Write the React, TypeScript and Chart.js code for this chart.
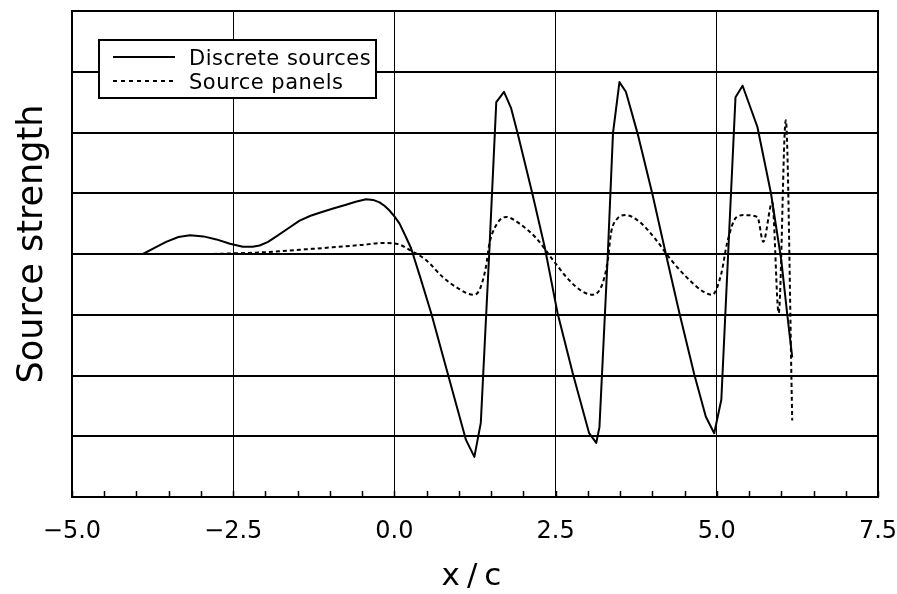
import React, { useEffect, useRef } from 'react';
import { Chart, registerables } from 'chart.js';

Chart.register(...registerables);

// ---- Data ----
const seriesNames = ['Discrete sources', 'Source panels'];

const discreteX = [
  -3.9, -3.72, -3.54, -3.35, -3.17, -2.96, -2.76, -2.55, -2.35, -2.2, -2.09, -1.96, -1.83, -1.65, -1.47,
  -1.3, -1.16, -0.95, -0.75, -0.6, -0.44, -0.33, -0.23, -0.15, -0.08, 0.0, 0.08, 0.17, 0.26, 0.4,
  0.57, 0.83, 1.11, 1.24, 1.34, 1.47, 1.58, 1.7, 1.81, 1.91, 2.14, 2.33, 2.53, 2.77, 3.02, 3.13, 3.18,
  3.31, 3.39, 3.49, 3.59, 3.77, 4.0, 4.21, 4.42, 4.65, 4.83, 4.96, 5.07, 5.29, 5.4, 5.63, 5.84, 6.0,
  6.09, 6.17,
];
const discreteY = [
  0, 0.1, 0.2, 0.28, 0.31, 0.29, 0.24, 0.17, 0.12, 0.12, 0.14, 0.2, 0.29, 0.42, 0.55,
  0.63, 0.68, 0.75, 0.81, 0.86, 0.9, 0.89, 0.85, 0.79, 0.72, 0.62, 0.5, 0.3, 0.09, -0.38,
  -0.97, -1.98, -3.06, -3.34, -2.78, 0, 2.5, 2.67, 2.4, 1.99, 0.99, 0.12, -0.97, -1.98, -2.95, -3.11, -2.85,
  0, 1.99, 2.83, 2.67, 1.99, 0.99, 0, -0.97, -1.98, -2.68, -2.95, -2.4, 2.58, 2.77, 2.09, 1.0, -0.1,
  -0.97, -1.7,
];

const panelX = [
  -3.9, -3.0, -2.5, -2.0, -1.47, -0.96, -0.5, -0.19, 0.03, 0.23, 0.49, 0.75, 0.98, 1.22, 1.32, 1.42,
  1.47, 1.55, 1.73, 1.94, 2.2, 2.46, 2.71, 2.92, 3.08, 3.23, 3.31, 3.36, 3.44, 3.59, 3.8, 4.06, 4.27,
  4.53, 4.79, 4.93, 5.07, 5.16, 5.3, 5.43, 5.63, 5.72, 5.86, 5.96, 6.07, 6.17,
];
const panelY = [
  0, 0, 0.01, 0.03, 0.07, 0.11, 0.15, 0.18, 0.17, 0.07, -0.1, -0.38, -0.56, -0.67, -0.59, -0.21,
  0.15, 0.42, 0.61, 0.5, 0.26, -0.1, -0.43, -0.62, -0.67, -0.48, -0.1, 0.35, 0.56, 0.64, 0.53, 0.23, -0.07,
  -0.38, -0.62, -0.67, -0.32, 0.18, 0.6, 0.64, 0.61, 0.2, 0.85, -0.97, 2.2, -2.74,
];

const xTickValues = [-5, -2.5, 0, 2.5, 5, 7.5];
const xTickLabels = ['\u22125.0', '\u22122.5', '0.0', '2.5', '5.0', '7.5'];
const xMinorStep = 0.5;
const xTitle = 'x/c';
const yTitle = 'Source strength';

const FONT = '"DejaVu Sans", "Liberation Sans", sans-serif';

const decorPlugin = {
  id: 'decor',
  afterDatasetsDraw(chart: any) {
    const { ctx, chartArea } = chart;
    const xs = chart.scales.x;
    const { left, right, top, bottom } = chartArea;
    ctx.save();
    // minor ticks on bottom axis, pointing inward
    ctx.strokeStyle = '#000';
    ctx.lineWidth = 1.5;
    const xmin = xTickValues[0];
    const xmax = xTickValues[xTickValues.length - 1];
    for (let v = xmin; v <= xmax + 1e-9; v += xMinorStep) {
      const p = Math.round(xs.getPixelForValue(v)) + 0.5;
      ctx.beginPath();
      ctx.moveTo(p, bottom);
      ctx.lineTo(p, bottom - 6);
      ctx.stroke();
    }
    // frame
    ctx.lineWidth = 2;
    ctx.strokeRect(left, top, right - left, bottom - top);

    // legend
    const bx = 99, by = 40, bw = 277, bh = 58;
    ctx.fillStyle = '#fff';
    ctx.fillRect(bx, by, bw, bh);
    ctx.lineWidth = 2;
    ctx.strokeRect(bx, by, bw, bh);
    ctx.beginPath();
    ctx.moveTo(113, 57);
    ctx.lineTo(175, 57);
    ctx.stroke();
    ctx.setLineDash([4, 4]);
    ctx.beginPath();
    ctx.moveTo(113, 81);
    ctx.lineTo(173, 81);
    ctx.stroke();
    ctx.setLineDash([]);
    ctx.fillStyle = '#000';
    ctx.font = `21px ${FONT}`;
    ctx.textBaseline = 'alphabetic';
    ctx.textAlign = 'left';
    (ctx as any).letterSpacing = '0.5px';
    ctx.fillText(seriesNames[0], 189, 65);
    ctx.fillText(seriesNames[1], 189, 89);

    // x title
    ctx.font = `31px ${FONT}`;
    (ctx as any).letterSpacing = '7px';
    ctx.textAlign = 'center';
    ctx.fillText(xTitle, 475, 585);

    // y title
    ctx.translate(42, 244);
    ctx.rotate(-Math.PI / 2);
    ctx.font = `35px ${FONT}`;
    (ctx as any).letterSpacing = '0px';
    ctx.textAlign = 'center';
    ctx.fillText(yTitle, 0, 0);
    ctx.restore();
  },
};

export default function App() {
  const ref = useRef<HTMLCanvasElement | null>(null);
  useEffect(() => {
    if (!ref.current) return;
    const chart = new Chart(ref.current, {
      type: 'line',
      data: {
        datasets: [
          {
            label: seriesNames[0],
            data: discreteX.map((x, i) => ({ x, y: discreteY[i] })),
            borderColor: '#000',
            borderWidth: 2,
            pointRadius: 0,
            tension: 0,
            borderJoinStyle: 'round',
            fill: false,
          },
          {
            label: seriesNames[1],
            data: panelX.map((x, i) => ({ x, y: panelY[i] })),
            borderColor: '#000',
            borderWidth: 2,
            borderDash: [4, 3],
            pointRadius: 0,
            cubicInterpolationMode: 'monotone',
            fill: false,
          },
        ],
      },
      options: {
        responsive: false,
        animation: false,
        events: [],
        layout: { padding: { top: 11, right: 19, left: 0, bottom: 0 } },
        plugins: { legend: { display: false }, tooltip: { enabled: false } },
        scales: {
          x: {
            type: 'linear',
            min: -5,
            max: 7.5,
            afterFit: (s: any) => { s.height = 97; s.paddingLeft = 0; s.paddingRight = 0; },
            afterBuildTicks: (s: any) => { s.ticks = xTickValues.map((v) => ({ value: v })); },
            border: { display: false },
            grid: { color: '#000', lineWidth: 1, drawTicks: false },
            ticks: {
              autoSkip: false,
              maxRotation: 0,
              padding: 20,
              color: '#000',
              font: { family: FONT, size: 24 },
              callback: (v: any) => {
                const i = xTickValues.findIndex((t) => Math.abs(t - Number(v)) < 1e-6);
                return i >= 0 ? xTickLabels[i] : '';
              },
            },
          },
          y: {
            type: 'linear',
            min: -4,
            max: 4,
            afterFit: (s: any) => { s.width = 72; },
            border: { display: false },
            grid: { color: '#000', lineWidth: 2, drawTicks: false },
            ticks: { display: false, stepSize: 1 },
          },
        },
      },
      plugins: [decorPlugin],
    });
    return () => chart.destroy();
  }, []);
  return (
    <div style={{ position: 'fixed', left: 0, top: 0, width: 897, height: 594, background: '#fff' }}>
      <canvas ref={ref} width={897} height={594} />
    </div>
  );
}
